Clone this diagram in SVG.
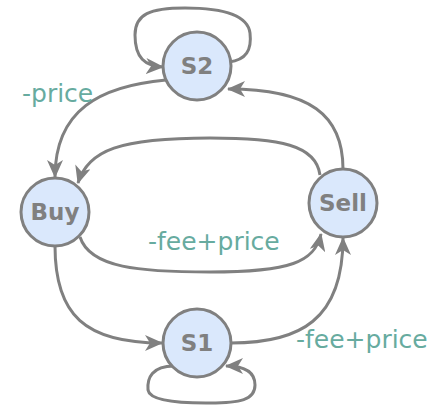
<svg xmlns="http://www.w3.org/2000/svg" width="444" height="414" viewBox="0 0 444 414">
  <style>
    .edge { fill: none; stroke: #808080; stroke-width: 3; marker-end: url(#arrow); }
    .node circle { fill: #dae8fc; stroke: #808080; stroke-width: 3; }
    .node text { font-family: "DejaVu Sans", Verdana, sans-serif; font-weight: bold; font-size: 23px; fill: #808080; text-anchor: middle; }
    .label { font-family: "DejaVu Sans", Verdana, sans-serif; font-size: 25px; fill: #67ab9f; }
  </style>
  <defs>
    <marker id="arrow" viewBox="0 0 18 16" refX="17" refY="8" markerWidth="18" markerHeight="16" markerUnits="userSpaceOnUse" orient="auto">
      <path d="M0,0 L18,8 L0,16 L5,8 Z" fill="#808080"/>
    </marker>
  </defs>

  <g id="connectors">
    <!-- S2 self loop -->
    <path class="edge" d="M 229 62 C 246 60, 252 50, 250 33 C 247 10, 205 8, 185 8 C 150 8, 135 14, 135 35 C 135 58, 145 66, 163 67"/>
    <!-- Sell -> S2 -->
    <path class="edge" d="M 343 169 C 343 115, 310 89, 228 89"/>
    <!-- S2 -> Buy -->
    <path class="edge" d="M 166 80 C 100 86, 55 110, 55 177"/>
    <!-- Sell -> Buy (upper) -->
    <path class="edge" d="M 320 175 C 316 145, 280 138, 210 138 C 120 138, 88 150, 78 183"/>
    <!-- Buy -> Sell (lower) -->
    <path class="edge" d="M 80 237 C 90 268, 140 272, 210 272 C 290 272, 315 262, 321 234"/>
    <!-- Buy -> S1 -->
    <path class="edge" d="M 55 246 C 55 315, 85 343, 162 343"/>
    <!-- S1 -> Sell -->
    <path class="edge" d="M 231 343 C 300 343, 343 320, 343 238"/>
    <!-- S1 self loop -->
    <path class="edge" d="M 174 366 C 152 366, 147 378, 148 390 C 150 404, 200 403, 210 403 C 240 403, 255 400, 255 385 C 255 370, 242 366, 226 366"/>
  </g>

  <g id="label-price"><text class="label" x="22" y="102">-price</text></g>
  <g id="label-fee-price-mid"><text class="label" x="148" y="250">-fee+price</text></g>
  <g id="label-fee-price-low"><text class="label" x="296" y="348">-fee+price</text></g>

  <g id="node-s2" class="node">
    <circle cx="197" cy="66" r="34"/>
    <text x="197" y="74">S2</text>
  </g>
  <g id="node-buy" class="node">
    <circle cx="55" cy="212" r="34"/>
    <text x="55" y="220">Buy</text>
  </g>
  <g id="node-sell" class="node">
    <circle cx="343" cy="203" r="34"/>
    <text x="343" y="211">Sell</text>
  </g>
  <g id="node-s1" class="node">
    <circle cx="197" cy="343" r="34"/>
    <text x="197" y="351">S1</text>
  </g>
</svg>
